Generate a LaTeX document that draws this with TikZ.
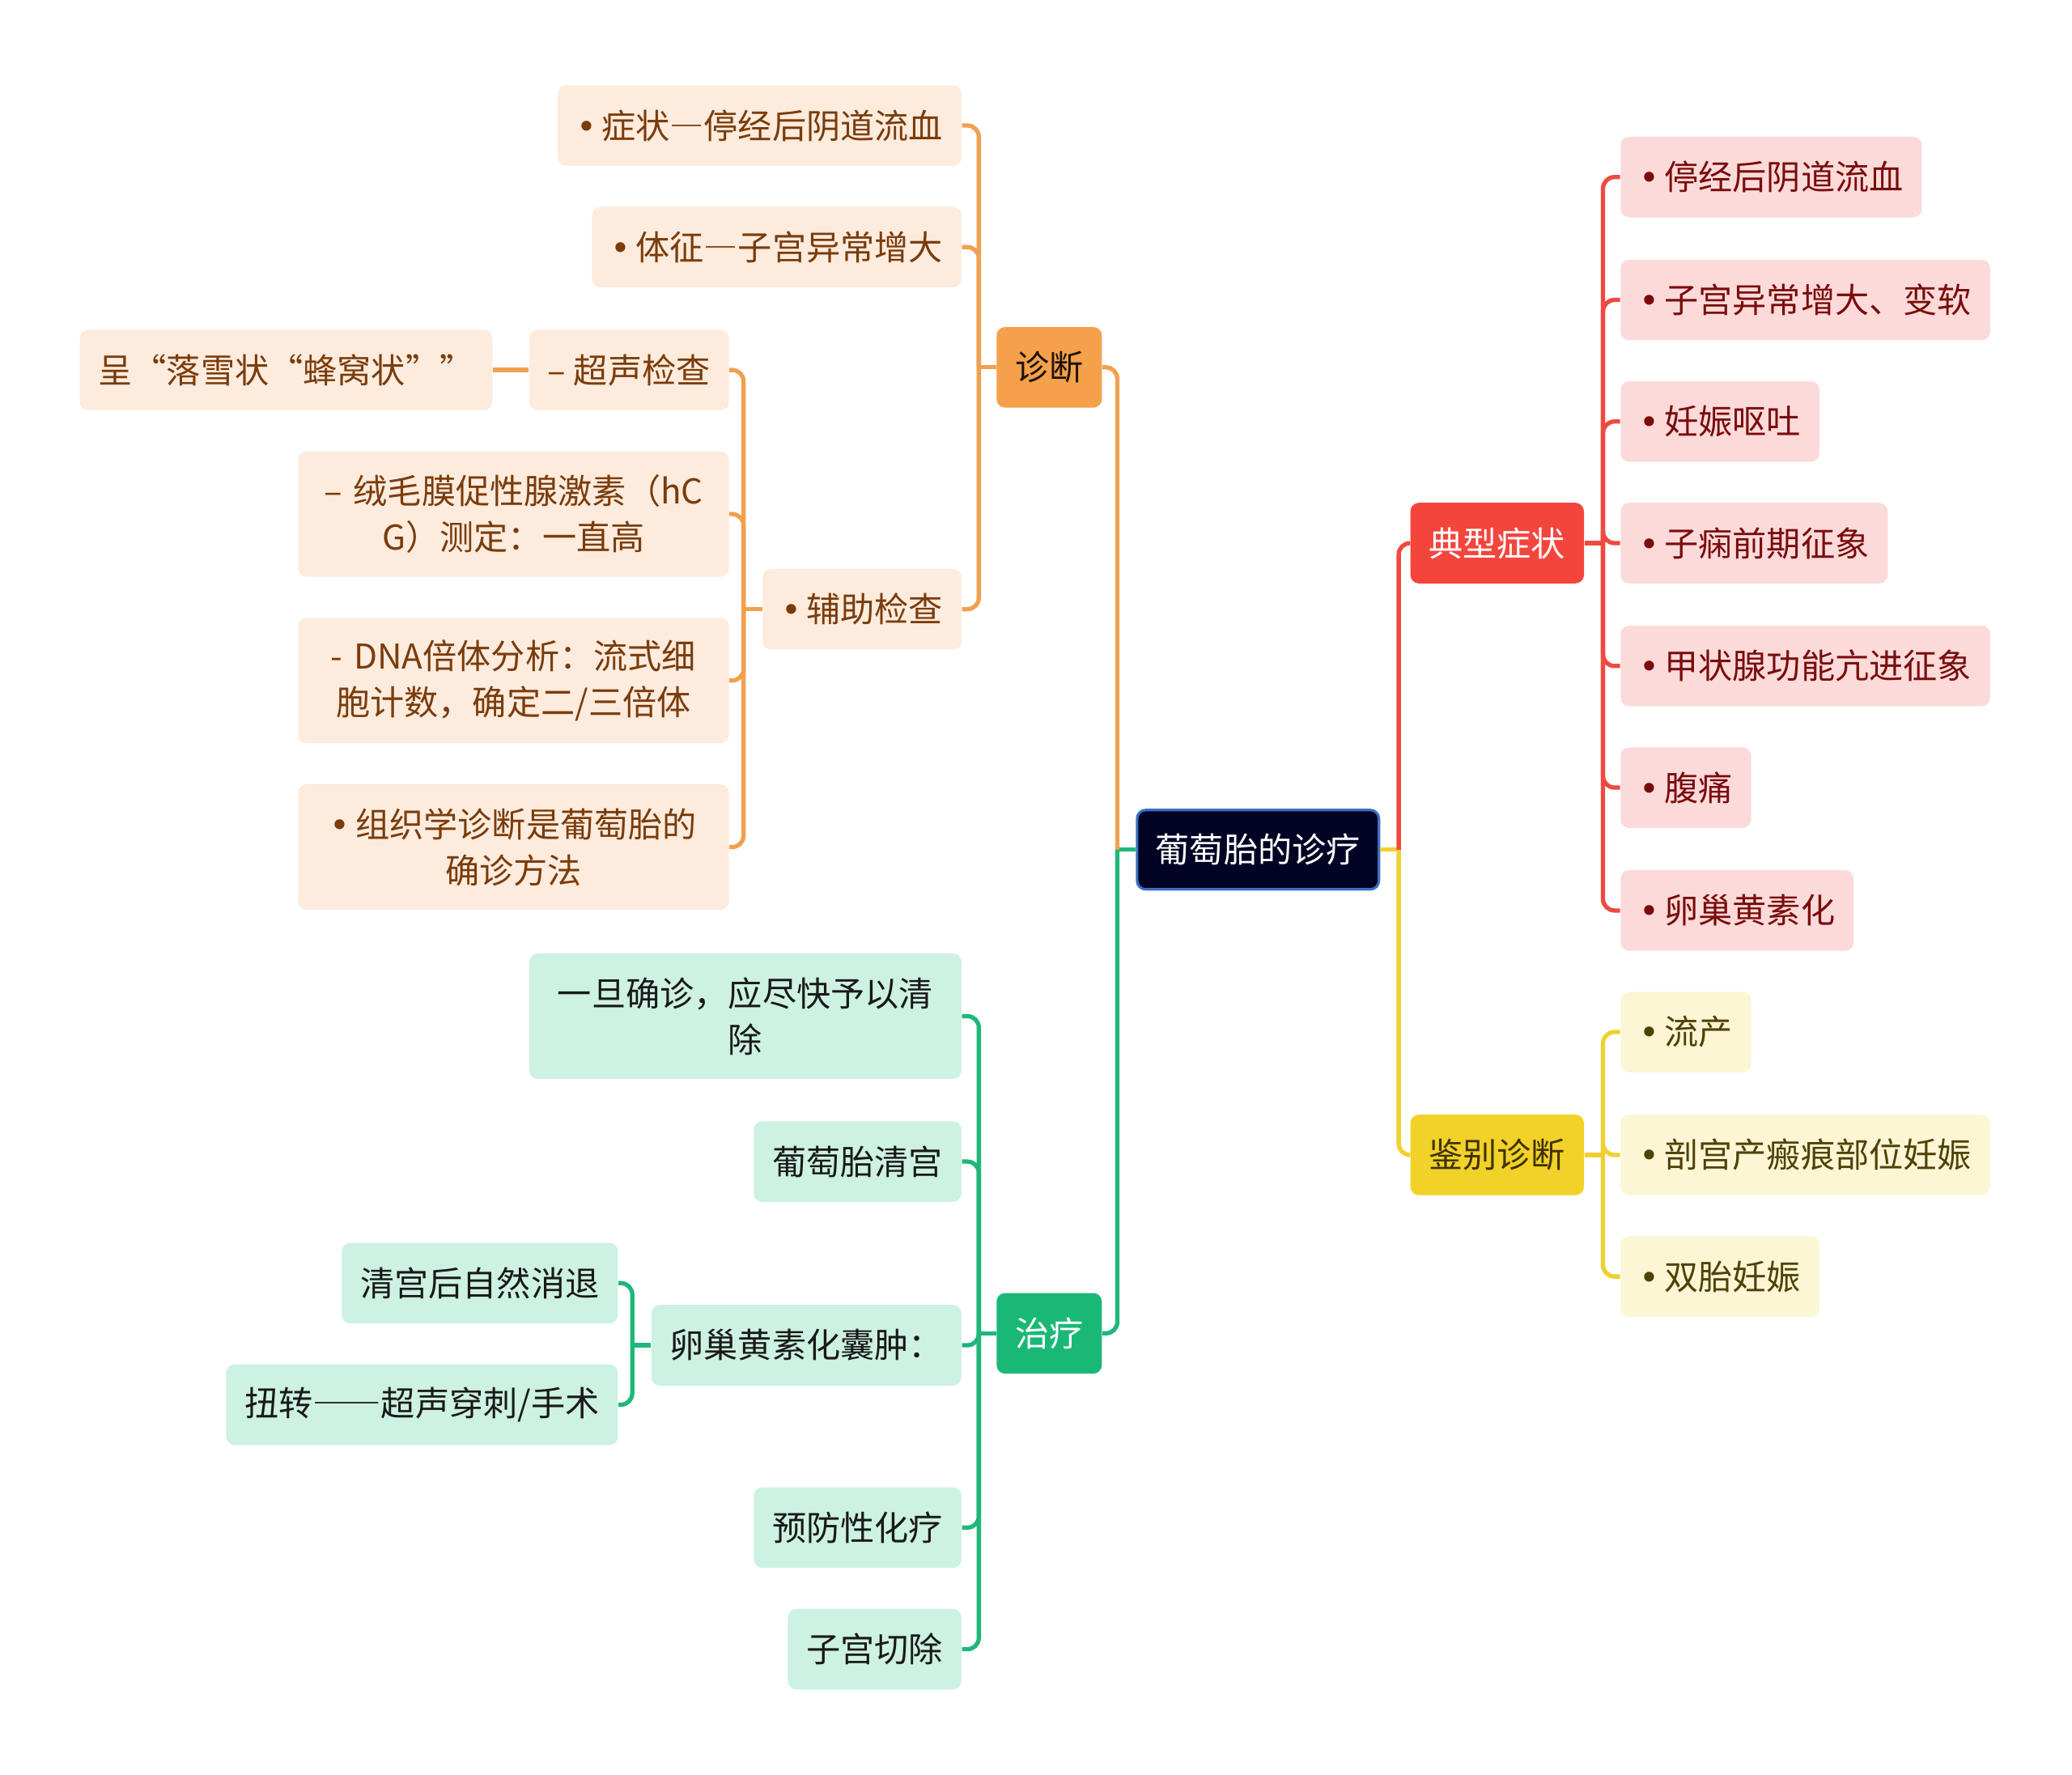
\documentclass[tikz,border=0pt]{standalone}
\usepackage{fontspec}
\newfontfamily\cjk{Noto Sans CJK SC}
\newfontfamily\symf{DejaVu Sans}
\usetikzlibrary{positioning, calc}
\newlength{\dpx}
\setlength{\dpx}{0.016327cm}
\newcommand{\bul}{{\symf •}\hspace{0.15em}}
\newcommand{\fwd}[1]{{\addfontfeatures{RawFeature=+fwid}#1}}

\definecolor{rootfill}{HTML}{020224}
\definecolor{rootedge}{HTML}{3B6FC4}
\definecolor{oline}{HTML}{F1A04F}
\definecolor{ofill}{HTML}{F5A04B}
\definecolor{olight}{HTML}{FDEBDD}
\definecolor{otext}{HTML}{7A3C0B}
\definecolor{gline}{HTML}{1EB77A}
\definecolor{gfill}{HTML}{1AB877}
\definecolor{glight}{HTML}{CDF1E2}
\definecolor{rline}{HTML}{EE4A40}
\definecolor{rfill}{HTML}{F4453D}
\definecolor{rlight}{HTML}{FCDADA}
\definecolor{rtext}{HTML}{7A0C0C}
\definecolor{yline}{HTML}{F0D030}
\definecolor{yfill}{HTML}{F2D128}
\definecolor{ylight}{HTML}{FCF6D5}
\definecolor{ytext}{HTML}{4F4204}
\definecolor{ydark}{HTML}{3E3300}

\begin{document}
\begin{tikzpicture}[x=\dpx, y=-\dpx,
      box/.style={font=\cjk\fontsize{12}{16.2}\selectfont, rounded corners=3pt,
                  inner xsep=14\dpx, inner ysep=0pt, minimum height=61\dpx, align=center},
      twoline/.style={minimum height=95\dpx, text width=298\dpx},
      rootnode/.style={box, fill=rootfill, draw=rootedge, line width=0.9pt, text=white,
                  minimum width=180\dpx, minimum height=60\dpx},
      diagnode/.style={box, fill=ofill, text=black!85!brown, minimum width=78\dpx},
      treatnode/.style={box, fill=gfill, text=white, minimum width=78\dpx},
      symnode/.style={box, fill=rfill, text=white, minimum width=129\dpx},
      diffnode/.style={box, fill=yfill, text=ydark, minimum width=129\dpx},
      ochild/.style={box, fill=olight, text=otext, anchor=east},
      gchild/.style={box, fill=glight, text=black!90, anchor=east},
      rchild/.style={box, fill=rlight, text=rtext, anchor=west},
      ychild/.style={box, fill=ylight, text=ytext, anchor=west},
      link/.style={line width=1.5pt, rounded corners=4pt},
  ]
  \useasboundingbox (0,0) rectangle (1568,1343);

  % ---- centre ----
  \node[rootnode] (root) at (952,643) {葡萄胎的诊疗};
  \coordinate (rJL) at ($(root.west)+(-14,0)$);
  \coordinate (rJR) at ($(root.east)+(14,0)$);

  % ---- main branches ----
  \node[diagnode]  (diag)  at (794,278)  {诊断};
  \node[treatnode] (treat) at (794,1009) {治疗};
  \node[symnode]   (sym)   at (1133,411) {典型症状};
  \node[diffnode]  (diff)  at (1133,874) {鉴别诊断};

  % ---- diagnosis (LEFT, top) ----
  \node[ochild] (d1) at (728,95)  {\bul 症状\fwd{—}停经后阴道流血};
  \node[ochild] (d2) at (728,187) {\bul 体征\fwd{—}子宫异常增大};
  \node[ochild] (d3) at (728,461) {\bul 辅助检查};
  \node[ochild] (d31) at (552,280) {– 超声检查};
  \node[ochild] (d311) at (373,280) {呈“落雪状“蜂窝状””};
  \node[ochild, twoline] (d32) at (552,389) {– 绒毛膜促性腺激素（hC\\G）测定：一直高};
  \node[ochild, twoline] (d33) at (552,515) {- DNA倍体分析：流式细\\胞计数，确定二/三倍体};
  \node[ochild, twoline] (d34) at (552,641) {\bul 组织学诊断是葡萄胎的\\确诊方法};

  % ---- treatment (LEFT, bottom) ----
  \node[gchild, twoline, text width=299\dpx] (t1) at (728,769) {一旦确诊，应尽快予以清\\除};
  \node[gchild] (t2) at (728,879)  {葡萄胎清宫};
  \node[gchild] (t3) at (728,1018) {卵巢黄素化囊肿：};
  \node[gchild] (t31) at (468,971)  {清宫后自然消退};
  \node[gchild] (t32) at (468,1063) {扭转\fwd{——}超声穿刺/手术};
  \node[gchild] (t4) at (728,1156) {预防性化疗};
  \node[gchild] (t5) at (728,1248) {子宫切除};

  % ---- symptoms and differential (RIGHT) ----
  \foreach \i/\y/\lab in {1/134/停经后阴道流血, 2/227/子宫异常增大、变软, 3/319/妊娠呕吐,
                          4/411/子痫前期征象, 5/504/甲状腺功能亢进征象, 6/596/腹痛,
                          7/689/卵巢黄素化}{
      \node[rchild] (s\i) at (1226,\y) {\bul \lab};
  }
  \foreach \i/\y/\lab in {1/781/流产, 2/874/剖宫产瘢痕部位妊娠, 3/966/双胎妊娠}{
      \node[ychild] (f\i) at (1226,\y) {\bul \lab};
  }

  % ---- junctions ----
  \coordinate (dJ)  at ($(diag.west)+(-13,0)$);
  \coordinate (d3J) at ($(d3.west)+(-14,0)$);
  \coordinate (tJ)  at ($(treat.west)+(-13,0)$);
  \coordinate (t3J) at ($(t3.west)+(-14,0)$);
  \coordinate (sJ)  at ($(sym.east)+(14,0)$);
  \coordinate (fJ)  at ($(diff.east)+(14,0)$);

  % ---- connectors ----
  \draw[link, gline] (root.west) -- (rJL);
  \draw[link, oline] (rJL) |- (diag.east);
  \draw[link, gline] (rJL) |- (treat.east);
  \draw[link, yline] (root.east) -- (rJR);
  \draw[link, rline] (rJR) |- (sym.west);
  \draw[link, yline] (rJR) |- (diff.west);

  \draw[link, oline] (diag.west) -- (dJ);
  \foreach \c in {d1, d2, d3} \draw[link, oline] (dJ) |- (\c.east);
  \draw[link, oline] (d3.west) -- (d3J);
  \foreach \c in {d31, d32, d33, d34} \draw[link, oline] (d3J) |- (\c.east);
  \draw[link, oline] (d31.west) -- (d311.east);

  \draw[link, gline] (treat.west) -- (tJ);
  \foreach \c in {t1, t2, t3, t4, t5} \draw[link, gline] (tJ) |- (\c.east);
  \draw[link, gline] (t3.west) -- (t3J);
  \foreach \c in {t31, t32} \draw[link, gline] (t3J) |- (\c.east);

  \draw[link, rline] (sym.east) -- (sJ);
  \foreach \i in {1,...,7} \draw[link, rline] (sJ) |- (s\i.west);
  \draw[link, yline] (diff.east) -- (fJ);
  \foreach \i in {1,2,3} \draw[link, yline] (fJ) |- (f\i.west);

\end{tikzpicture}
\end{document}
